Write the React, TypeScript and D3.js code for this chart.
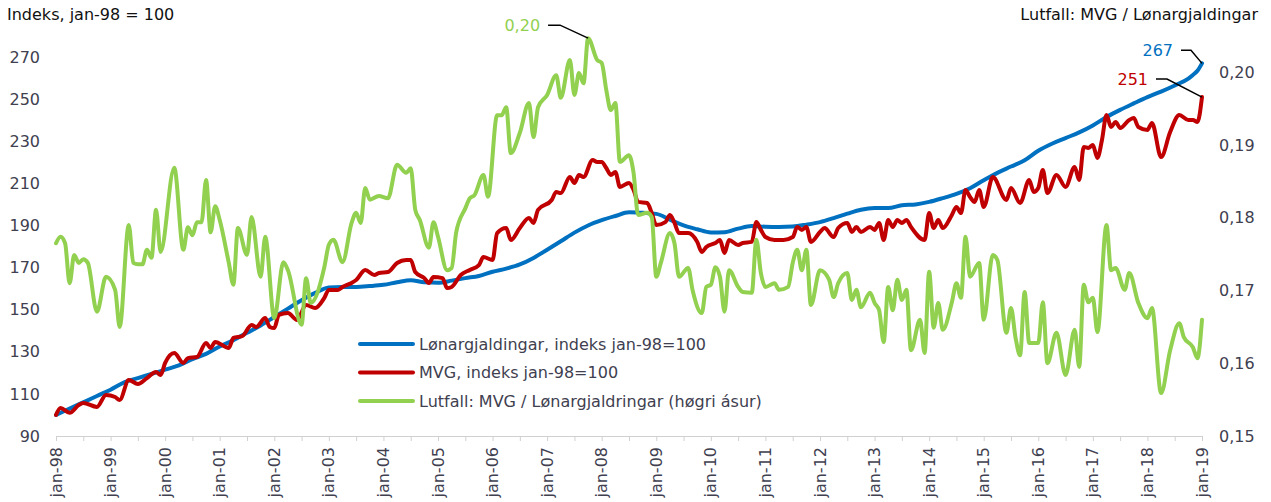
import React, { useEffect, useRef } from "react";
import * as d3 from "d3";

// months counted from jan-98 (= 0) to jan-19 (= 252)
const xTickLabels = [
  "jan-98", "jan-99", "jan-00", "jan-01", "jan-02", "jan-03", "jan-04",
  "jan-05", "jan-06", "jan-07", "jan-08", "jan-09", "jan-10", "jan-11",
  "jan-12", "jan-13", "jan-14", "jan-15", "jan-16", "jan-17", "jan-18", "jan-19",
];
const leftTicks = [90, 110, 130, 150, 170, 190, 210, 230, 250, 270];
const rightTicks = [0.15, 0.16, 0.17, 0.18, 0.19, 0.2];

// Lønargjaldingar, indeks jan-98=100
const wageMonths = [
  0, 3, 6, 9, 12, 15, 18, 21, 24, 27, 30, 33, 36, 39, 42, 45, 48, 51, 54, 57, 60,
  63, 66, 69, 72, 75, 78, 81, 84, 87, 90, 93, 96, 99, 102, 105, 108, 111, 114, 117,
  120, 123, 126, 129, 132, 135, 138, 141, 144, 147, 150, 153, 156, 159, 162, 165,
  168, 171, 174, 177, 180, 183, 186, 189, 192, 195, 198, 201, 204, 207, 210, 213,
  216, 219, 222, 225, 228, 231, 234, 237, 240, 243, 246, 249, 250, 251, 252,
];
const wageValues = [
  100, 103, 106, 109, 112, 115.5, 117.5, 119.5, 121.5, 123.5, 126.5, 129, 132.5,
  135.5, 139, 142.5, 146.5, 150.5, 154.5, 158, 160.5, 160.8, 160.8, 161.2, 161.8,
  163, 164, 163, 162.8, 163.8, 165, 166, 168, 169.5, 171.5, 174.6, 178.5, 182.5,
  186.6, 190, 192.5, 194.5, 196.3, 196, 195.5, 192.8, 190, 188.2, 186.7, 186.8,
  188.5, 189.7, 189.4, 189.3, 189.5, 190.4, 191.6, 193.5, 195.6, 197.5, 198.3,
  198.3, 199.6, 200, 201.2, 203, 205, 207.7, 211.5, 215, 218, 221, 225.5, 228.8,
  231.5, 234.2, 237.5, 241.5, 244.9, 248, 251, 253.6, 256.5, 259.8, 261.5, 263.5, 267,
];

// MVG, indeks jan-98=100
const vatMonths = [
  0, 1, 3, 5, 6, 9, 11, 13, 14, 16, 18, 20, 22, 23, 24, 26, 28, 29, 31, 33, 34, 35,
  38, 39, 41, 43, 44, 46, 47, 48, 49, 51, 53, 55, 57, 59, 60, 62, 63, 65, 66, 68,
  70, 71, 73, 75, 77, 78, 79, 81, 82, 83, 85, 86, 87, 89, 91, 93, 94, 96, 97, 99,
  100, 102, 104, 105, 106, 109, 110, 111, 113, 114, 115, 116, 118, 119, 120, 121,
  122, 123, 124, 126, 127, 128, 130, 131, 132, 134, 135, 136, 137, 139, 141, 142,
  143, 145, 146, 147, 148, 150, 151, 153, 154, 155, 156, 158, 160, 162, 163, 164,
  165, 166, 168, 169, 171, 172, 174, 175, 176, 177, 179, 180, 181, 182, 183, 184,
  185, 186, 187, 188, 191, 192, 193, 194, 195, 197, 198, 199, 200, 201, 202, 203,
  204, 206, 209, 210, 212, 214, 215, 216, 217, 218, 220, 222, 224, 225, 226, 227,
  228, 229, 230, 231, 232, 233, 234, 236, 237, 238, 240, 241, 243, 245, 247, 249,
  250, 251, 252,
];
const vatValues = [
  100, 103.3, 101, 104.7, 105.7, 103.8, 109.5, 108.5, 107.1, 116.6, 114.7, 117.5,
  120.4, 119, 124.7, 129.4, 124.7, 127, 127.5, 134.2, 131.8, 134.7, 131.8, 136.6,
  137.5, 142.7, 141.8, 146, 141.8, 141.3, 147.5, 148.4, 145.1, 152.2, 150.8, 155.6,
  159.4, 159.4, 160.8, 162.7, 164.1, 168.9, 166.5, 167.4, 167.9, 172.2, 173.6,
  173.6, 167.9, 165, 162.7, 165.5, 165, 160.3, 160.8, 166.5, 168.9, 171.2, 175,
  173.6, 186.4, 188.8, 183.1, 188.8, 193.6, 191.2, 197.4, 202.1, 205.9, 205.4, 213,
  210.2, 214, 213, 221.1, 220.2, 220.2, 217.3, 214, 215.4, 208.3, 210.2, 206.9,
  201.2, 200.7, 195.9, 190.2, 191.6, 195, 191.2, 186.4, 186.4, 182.2, 177.4, 179.8,
  181.7, 183.1, 176.9, 183.1, 180.7, 181.7, 182.2, 191.6, 187.9, 184.5, 183.1,
  183.1, 184.5, 189.3, 187.9, 189.3, 182.2, 186.9, 188.8, 184.5, 188.8, 191.2,
  186.9, 189.3, 186.9, 189.3, 187.9, 191.2, 183.1, 192.6, 189.3, 192.6, 191.2,
  192.6, 189.3, 183.1, 195.9, 188.8, 192.6, 188.8, 195, 198.8, 195.9, 206.9, 203.5,
  201.2, 206.9, 198.8, 213, 202.1, 207.8, 200.7, 211.6, 205.9, 207.8, 216.4, 205.4,
  214, 208.3, 217.8, 211.6, 227.3, 226.8, 228.2, 222.1, 230.6, 242.5, 236.8, 239.2,
  236.3, 240.1, 241, 236.8, 235.4, 238.7, 222.5, 234.4, 242.5, 240.1, 240.1, 239.2, 251,
];

// Lutfall: MVG / Lønargjaldringar (høgri ásur)
const ratioMonths = [
  0, 1, 2, 3, 4, 5, 6, 7, 9, 11, 13, 14, 16, 17, 18, 19, 20, 21, 22, 23, 26, 28, 29,
  30, 31, 32, 33, 34, 35, 36, 38, 39, 40, 42, 43, 45, 46, 48, 50, 51, 54, 55, 56,
  59, 60, 61, 63, 65, 66, 67, 68, 69, 71, 73, 75, 77, 78, 79, 80, 82, 83, 84, 86,
  87, 88, 90, 91, 92, 94, 95, 97, 98, 99, 100, 102, 104, 105, 106, 108, 110, 111,
  113, 114, 115, 116, 117, 119, 120, 121, 122, 123, 124, 126, 127, 128, 130, 131,
  132, 133, 135, 136, 137, 139, 140, 142, 143, 144, 145, 146, 147, 148, 150, 151,
  153, 154, 155, 156, 158, 159, 161, 162, 163, 164, 165, 166, 168, 170, 171, 172,
  174, 175, 176, 177, 179, 180, 181, 182, 183, 184, 185, 186, 187, 188, 190, 191,
  192, 193, 194, 195, 197, 198, 199, 200, 201, 203, 204, 206, 207, 209, 210, 211,
  212, 213, 214, 216, 217, 218, 220, 222, 224, 225, 226, 227, 228, 229, 231, 232,
  233, 235, 236, 238, 240, 241, 243, 245, 247, 248, 250, 251, 252,
];
const ratioValues = [
  0.1765, 0.1774, 0.1765, 0.171, 0.1749, 0.1738, 0.1743, 0.1738, 0.1671, 0.1719,
  0.1701, 0.165, 0.179, 0.1738, 0.1736, 0.1736, 0.1756, 0.1745, 0.1811, 0.1753,
  0.1869, 0.1756, 0.1787, 0.1776, 0.1794, 0.1794, 0.1852, 0.178, 0.1816, 0.1797,
  0.1738, 0.1708, 0.1786, 0.1749, 0.1801, 0.1719, 0.1774, 0.1662, 0.1739, 0.1728,
  0.1653, 0.1717, 0.1683, 0.1732, 0.1763, 0.177, 0.1739, 0.1793, 0.1807, 0.1793,
  0.1841, 0.1825, 0.183, 0.1827, 0.1873, 0.1862, 0.1868, 0.1811, 0.1797, 0.1759,
  0.1794, 0.1774, 0.1728, 0.1731, 0.178, 0.1813, 0.1827, 0.1831, 0.1859, 0.1829,
  0.1941, 0.1941, 0.1952, 0.1889, 0.1917, 0.1958, 0.1911, 0.1952, 0.1969, 0.1996,
  0.1965, 0.2017, 0.1969, 0.1999, 0.1985, 0.2047, 0.2017, 0.2013, 0.1976, 0.1948,
  0.1958, 0.1877, 0.1886, 0.1862, 0.1804, 0.1807, 0.1801, 0.1719, 0.1738, 0.1779,
  0.1765, 0.1719, 0.1731, 0.17, 0.1669, 0.1705, 0.1708, 0.1732, 0.1719, 0.1671,
  0.1728, 0.1705, 0.1698, 0.1697, 0.177, 0.1724, 0.1705, 0.171, 0.1701, 0.1705,
  0.1738, 0.1756, 0.1728, 0.1756, 0.168, 0.1728, 0.1715, 0.1691, 0.171, 0.1724,
  0.1687, 0.1701, 0.1677, 0.1697, 0.1683, 0.1673, 0.1629, 0.1705, 0.1673, 0.1715,
  0.1687, 0.1701, 0.1618, 0.166, 0.1614, 0.1726, 0.1649, 0.1683, 0.1646, 0.1684,
  0.171, 0.169, 0.1774, 0.1719, 0.1738, 0.166, 0.1749, 0.1742, 0.1642, 0.1676,
  0.1635, 0.1611, 0.1698, 0.1628, 0.1628, 0.1684, 0.16, 0.1642, 0.1584, 0.1646,
  0.1595, 0.1708, 0.1684, 0.169, 0.1643, 0.179, 0.1728, 0.1731, 0.1701, 0.1724,
  0.1683, 0.1662, 0.1676, 0.1559, 0.1618, 0.1655, 0.1636, 0.1622, 0.1607, 0.166,
];

const legendLabels = [
  "Lønargjaldingar, indeks jan-98=100",
  "MVG, indeks jan-98=100",
  "Lutfall: MVG / Lønargjaldringar (høgri ásur)",
];
const colors = ["#0070C0", "#C00000", "#92D050"];
const font = "DejaVu Sans";
const textColor = "#404050";

const App = () => {
  const svgRef = useRef();
  const width = 1271;
  const height = 502;

  useEffect(() => {
    const svg = d3.select(svgRef.current);
    svg.selectAll("*").remove();

    const x = d3.scaleLinear().domain([0, 252]).range([56, 1202]);
    const yLeft = d3.scaleLinear().domain([90, 280]).range([436, 36]);
    const yRight = d3.scaleLinear().domain([0.15, 0.205]).range([436, 36]);

    // titles
    svg.append("text")
      .attr("x", 7).attr("y", 20)
      .attr("font-family", font).attr("font-size", 16).attr("fill", "#111")
      .text("Indeks, jan-98 = 100");
    svg.append("text")
      .attr("x", 1258).attr("y", 20).attr("text-anchor", "end")
      .attr("font-family", font).attr("font-size", 16).attr("fill", "#111")
      .text("Lutfall: MVG / Lønargjaldingar");

    // x axis
    const xAxis = svg.append("g")
      .attr("transform", "translate(0,436)")
      .call(d3.axisBottom(x).tickValues(d3.range(0, 253, 6)).tickSizeInner(5).tickSizeOuter(0).tickFormat(() => ""));
    xAxis.select(".domain").attr("stroke", "#d0d0d0");
    xAxis.selectAll(".tick line").attr("stroke", "#d0d0d0");

    svg.append("g")
      .selectAll("text")
      .data(xTickLabels)
      .enter()
      .append("text")
      .attr("transform", (d, i) => `translate(${x(i * 12)},447)rotate(-90)`)
      .attr("text-anchor", "end")
      .attr("dy", "0.35em")
      .attr("font-family", font).attr("font-size", 16).attr("fill", textColor)
      .text((d) => d);

    // left axis
    const gl = svg.append("g")
      .attr("transform", "translate(40,0)")
      .call(d3.axisLeft(yLeft).tickValues(leftTicks).tickSize(0).tickPadding(0));
    gl.select(".domain").remove();
    gl.selectAll("text").attr("font-family", font).attr("font-size", 16).attr("fill", textColor);

    // right axis
    const gr = svg.append("g")
      .attr("transform", "translate(1219,0)")
      .call(d3.axisRight(yRight).tickValues(rightTicks).tickSize(0).tickPadding(0)
        .tickFormat((d) => d3.format(".2f")(d).replace(".", ",")));
    gr.select(".domain").remove();
    gr.selectAll("text").attr("font-family", font).attr("font-size", 16).attr("fill", textColor);

    // lines
    const series = [
      { months: wageMonths, values: wageValues, y: yLeft },
      { months: vatMonths, values: vatValues, y: yLeft },
      { months: ratioMonths, values: ratioValues, y: yRight },
    ];
    series.forEach((s, k) => {
      const line = d3.line()
        .x((d, i) => x(s.months[i]))
        .y((d) => s.y(d))
        .curve(d3.curveMonotoneX);
      svg.append("path")
        .attr("d", line(s.values))
        .attr("fill", "none")
        .attr("stroke", colors[k])
        .attr("stroke-width", 4)
        .attr("stroke-linejoin", "round")
        .attr("stroke-linecap", "round");
    });

    // legend
    const lg = svg.append("g").attr("transform", "translate(360,344)");
    legendLabels.forEach((label, i) => {
      lg.append("line")
        .attr("x1", 0).attr("x2", 53)
        .attr("y1", i * 28.5).attr("y2", i * 28.5)
        .attr("stroke", colors[i]).attr("stroke-width", 4).attr("stroke-linecap", "round");
      lg.append("text")
        .attr("x", 59).attr("y", i * 28.5).attr("dy", "0.35em")
        .attr("font-family", font).attr("font-size", 16).attr("fill", textColor)
        .text(label);
    });

    // annotations
    const peakIdx = ratioValues.indexOf(d3.max(ratioValues));
    const notes = [
      { px: x(ratioMonths[peakIdx]), py: yRight(ratioValues[peakIdx]), dx: -28, dy: -13, len: 12,
        text: d3.format(".2f")(ratioValues[peakIdx]).replace(".", ","), color: colors[2] },
      { px: x(252), py: yLeft(wageValues[wageValues.length - 1]), dx: -11, dy: -13, len: 10,
        text: String(wageValues[wageValues.length - 1]), color: colors[0] },
      { px: x(252), py: yLeft(vatValues[vatValues.length - 1]), dx: -35, dy: -18, len: 11,
        text: String(vatValues[vatValues.length - 1]), color: colors[1] },
    ];
    notes.forEach((n) => {
      svg.append("path")
        .attr("d", `M${n.px + n.dx - n.len},${n.py + n.dy}L${n.px + n.dx},${n.py + n.dy}L${n.px},${n.py}`)
        .attr("fill", "none").attr("stroke", "#000").attr("stroke-width", 1.5);
      svg.append("text")
        .attr("x", n.px + n.dx - n.len - 8).attr("y", n.py + n.dy).attr("dy", "0.35em")
        .attr("text-anchor", "end")
        .attr("font-family", font).attr("font-size", 16).attr("fill", n.color)
        .text(n.text);
    });
  }, []);

  return (
    <svg
      ref={svgRef}
      width={width}
      height={height}
      style={{ position: "absolute", left: 0, top: 0, background: "#fff" }}
    ></svg>
  );
};

export default App;
